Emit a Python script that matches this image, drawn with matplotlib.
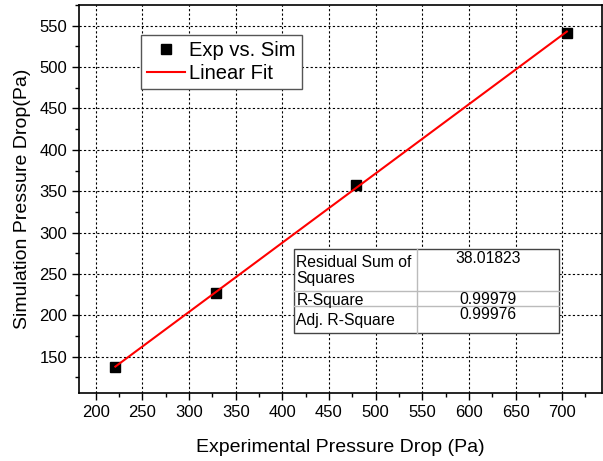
import numpy as np
import matplotlib
matplotlib.use('Agg')
import matplotlib.pyplot as plt
from matplotlib.patches import Rectangle
from matplotlib.ticker import MultipleLocator

plt.rcParams['font.family'] = ['Liberation Sans', 'DejaVu Sans']

# experimental vs simulated pressure drop (Pa)
exp_dp = np.array([221, 329, 479, 705])
sim_dp = np.array([137, 227, 358, 541])

# fit statistics shown in the table
stat_names = ['Residual Sum of\nSquares', 'R-Square', 'Adj. R-Square']
stat_vals = ['38.01823', '0.99979', '0.99976']

coef = np.polyfit(exp_dp, sim_dp, 1)
xf = np.array([exp_dp.min(), exp_dp.max()])
yf = np.polyval(coef, xf)

fig = plt.figure(figsize=(6.03, 4.61), dpi=100)
ax = fig.add_axes([0.131, 0.1475, 0.867, 0.8415])

ax.plot(exp_dp, sim_dp, 's', color='black', markersize=6.5, label='Exp vs. Sim', zorder=3)
ax.plot(xf, yf, '-', color='red', lw=1.5, label='Linear Fit', zorder=4)

ax.set_xlim(182, 742.5)
ax.set_ylim(106, 575)
ax.xaxis.set_major_locator(MultipleLocator(50))
ax.xaxis.set_minor_locator(MultipleLocator(25))
ax.yaxis.set_major_locator(MultipleLocator(50))
ax.yaxis.set_minor_locator(MultipleLocator(25))
ax.tick_params(which='major', direction='out', length=5, width=1, labelsize=12)
ax.tick_params(which='minor', direction='out', length=3, width=1)
for s in ax.spines.values():
    s.set_linewidth(1.2)

ax.grid(True, which='major', color='black', linestyle=(0, (2, 2)), linewidth=0.8)
ax.set_axisbelow(True)

ax.set_xlabel('Experimental Pressure Drop (Pa)', fontsize=14, labelpad=14)
ax.set_ylabel('Simulation Pressure Drop(Pa)', fontsize=14, labelpad=6)

leg = ax.legend(loc='upper left', bbox_to_anchor=(0.118, 0.923), borderaxespad=0,
                fontsize=14.5, fancybox=False, framealpha=1, edgecolor='#555555',
                handlelength=1.9, handletextpad=0.2, borderpad=0.3, labelspacing=0.2,
                numpoints=1)
leg.get_frame().set_linewidth(1.0)

# fit results table
tx0, tx1, tsplit = 0.411, 0.918, 0.646
ty0, ty1 = 0.155, 0.371
r1, r2 = 0.264, 0.225
tr = ax.transAxes
ax.add_patch(Rectangle((tx0, ty0), tx1 - tx0, ty1 - ty0, transform=tr,
                       facecolor='white', edgecolor='#444444', lw=1.0, zorder=5))
ax.plot([tsplit, tsplit], [ty0, ty1], color='#bbbbbb', lw=1, transform=tr, zorder=6)
ax.plot([tx0, tx1], [r1, r1], color='#bbbbbb', lw=1, transform=tr, zorder=6)
ax.plot([tx0, tx1], [r2, r2], color='#bbbbbb', lw=1, transform=tr, zorder=6)

fs = 11.3
ax.text(0.416, 0.316, stat_names[0], transform=tr, fontsize=fs, va='center',
        ha='left', linespacing=1.05, zorder=7)
t = ax.text(0.416, 0.238, stat_names[1], transform=tr, fontsize=fs, va='center',
            ha='left', zorder=7)
clip = Rectangle((tx0, r2), tx1 - tx0, r1 - r2, transform=tr, visible=False)
ax.add_patch(clip)
t.set_clip_path(clip)
ax.text(0.416, 0.188, stat_names[2], transform=tr, fontsize=fs, va='center',
        ha='left', zorder=7)
for v, yy in zip(stat_vals, [0.347, 0.2415, 0.2036]):
    ax.text(0.782, yy, v, transform=tr, fontsize=fs, va='center', ha='center', zorder=7)

fig.savefig('out.png', dpi=100)
